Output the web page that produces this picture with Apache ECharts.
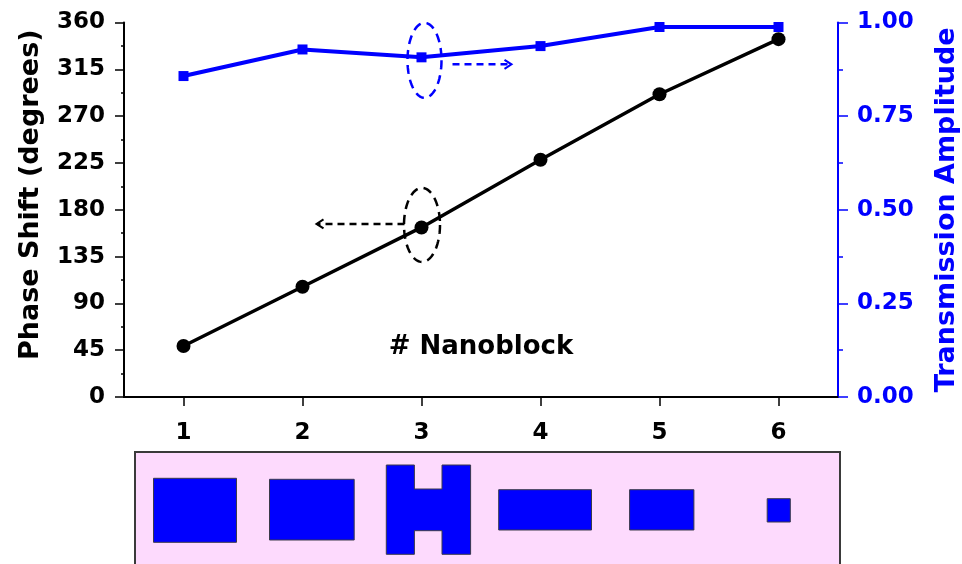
<!DOCTYPE html>
<html>
<head>
<meta charset="utf-8">
<script src="https://cdn.jsdelivr.net/npm/echarts@6.0.0/dist/echarts.min.js"></script>
<style>
  html, body { margin: 0; padding: 0; background: #fff; }
  #chart { width: 962px; height: 564px; }
</style>
</head>
<body>
<div id="chart"></div>
<script>
// Nanoblock index along the x axis
const nanoblocks = ['1', '2', '3', '4', '5', '6'];
// Phase shift of each nanoblock (degrees)
const phaseShift = [49, 106, 163, 228, 291, 344];
// Transmission amplitude of each nanoblock
const transmission = [0.857, 0.928, 0.907, 0.937, 0.988, 0.988];

const FONT = 'DejaVu Sans';
const BLUE = '#0000ff';

const chart = echarts.init(document.getElementById('chart'), null, { renderer: 'canvas' });

const labelStyle = (color) => ({
  fontFamily: FONT, fontWeight: 'bold', fontSize: 23, color: color
});

chart.setOption({
  animation: false,
  backgroundColor: '#ffffff',
  grid: { left: 124, right: 124, top: 22.5, bottom: 167, containLabel: false, outerBoundsMode: 'none' },
  xAxis: [
    {
      type: 'category', data: nanoblocks, position: 'bottom', boundaryGap: true,
      axisLine: { show: true, lineStyle: { color: '#000', width: 2 } },
      axisTick: { show: true, alignWithLabel: true, length: 9, lineStyle: { color: '#000', width: 1.5 } },
      axisLabel: Object.assign({ margin: 25 }, labelStyle('#000')),
      splitLine: { show: false }
    },
    {
      type: 'category', data: nanoblocks, position: 'top', boundaryGap: true,
      axisLine: { show: true, lineStyle: { color: '#000', width: 2 } },
      axisTick: { show: true, inside: true, alignWithLabel: true, length: 7, lineStyle: { color: '#000', width: 1.5 } },
      axisLabel: { show: false },
      splitLine: { show: false }
    }
  ],
  yAxis: [
    {
      type: 'value', min: 0, max: 360, interval: 45, position: 'left',
      name: 'Phase Shift (degrees)', nameLocation: 'middle', nameRotate: 90, nameGap: 80,
      nameTextStyle: { fontFamily: FONT, fontWeight: 'bold', fontSize: 27, color: '#000',
                       padding: [0, 0, 0, 30] },
      axisLine: { show: true, lineStyle: { color: '#000', width: 2 } },
      axisTick: { show: true, length: 9, lineStyle: { color: '#000', width: 1.5 } },
      minorTick: { show: true, splitNumber: 2, length: 3, lineStyle: { color: '#000', width: 1.5 } },
      axisLabel: Object.assign({ margin: 19 }, labelStyle('#000')),
      splitLine: { show: false }
    },
    {
      type: 'value', min: 0, max: 1, interval: 0.25, position: 'right',
      name: 'Transmission Amplitude', nameLocation: 'middle', nameRotate: 90, nameGap: 95,
      nameTextStyle: { fontFamily: FONT, fontWeight: 'bold', fontSize: 27, color: BLUE },
      axisLine: { show: true, lineStyle: { color: BLUE, width: 2 } },
      axisTick: { show: true, length: 10, lineStyle: { color: BLUE, width: 1.5 } },
      minorTick: { show: true, splitNumber: 2, length: 5, lineStyle: { color: BLUE, width: 1.5 } },
      axisLabel: Object.assign({ margin: 19, formatter: (v) => v.toFixed(2) }, labelStyle(BLUE)),
      splitLine: { show: false }
    }
  ],
  series: [
    {
      name: 'Phase Shift', type: 'line', xAxisIndex: 0, yAxisIndex: 0, data: phaseShift,
      symbol: 'circle', symbolSize: 14,
      lineStyle: { color: '#000', width: 3.5 },
      itemStyle: { color: '#000' },
      z: 3
    },
    {
      name: 'Transmission Amplitude', type: 'line', xAxisIndex: 0, yAxisIndex: 1, data: transmission,
      symbol: 'rect', symbolSize: 10,
      lineStyle: { color: BLUE, width: 4 },
      itemStyle: { color: BLUE },
      z: 4
    }
  ]
});

// Dashed ellipse outline as a closed polygon
function ellipse(cx, cy, rx, ry, color) {
  const pts = [];
  for (let i = 0; i < 96; i++) {
    const a = (i / 96) * Math.PI * 2;
    pts.push([cx + rx * Math.cos(a), cy + ry * Math.sin(a)]);
  }
  return {
    type: 'polygon', shape: { points: pts }, z: 10,
    style: { fill: null, stroke: color, lineWidth: 2.5, lineDash: [9, 6] }
  };
}

// Dashed arrow with an open chevron head at (x2, y)
function arrow(x1, x2, y, color) {
  const dir = x2 > x1 ? 1 : -1;
  return [
    { type: 'line', z: 10, shape: { x1: x1, y1: y, x2: x2 - dir * 1, y2: y },
      style: { stroke: color, lineWidth: 2.5, lineDash: [7, 5] } },
    { type: 'polyline', z: 10,
      shape: { points: [[x2 - dir * 7, y - 4.5], [x2, y], [x2 - dir * 7, y + 4.5]] },
      style: { stroke: color, lineWidth: 2, fill: null } }
  ];
}

// Markers for the third nanoblock, which the callouts circle
const pBlue = chart.convertToPixel({ seriesIndex: 1 }, [2, transmission[2]]);
const pBlack = chart.convertToPixel({ seriesIndex: 0 }, [2, phaseShift[2]]);

const blockStyle = { fill: BLUE, stroke: '#3a3a4a', lineWidth: 1 };

const elements = [
  ellipse(pBlue[0] + 3, pBlue[1] + 3, 17, 37.5, BLUE),
  ellipse(pBlack[0] + 0.5, pBlack[1] - 2.5, 18, 37, '#000'),
  ...arrow(pBlue[0] + 31, pBlue[0] + 90, pBlue[1] + 7, BLUE),
  ...arrow(pBlack[0] - 17, pBlack[0] - 105, pBlack[1] - 3.5, '#000'),
  {
    type: 'text', z: 10, x: 481, y: 347,
    style: { text: '# Nanoblock', fontFamily: FONT, fontWeight: 'bold', fontSize: 26,
             fill: '#000', align: 'center', verticalAlign: 'middle' }
  },
  // Panel showing the nanoblock cross-sections
  {
    type: 'rect', z: 1, shape: { x: 135, y: 452, width: 705, height: 120 },
    style: { fill: '#fddafd', stroke: '#3a3a3a', lineWidth: 2 }
  },
  { type: 'rect', z: 2, shape: { x: 153.5, y: 478.3, width: 83, height: 64 }, style: blockStyle },
  { type: 'rect', z: 2, shape: { x: 269.5, y: 479.3, width: 84.7, height: 60.7 }, style: blockStyle },
  {
    type: 'polygon', z: 2,
    shape: { points: [[386.3, 465], [414.4, 465], [414.4, 489], [442, 489], [442, 465], [470.6, 465],
                      [470.6, 554.3], [442, 554.3], [442, 530.7], [414.4, 530.7], [414.4, 554.3], [386.3, 554.3]] },
    style: blockStyle
  },
  { type: 'rect', z: 2, shape: { x: 498.7, y: 489.7, width: 92.8, height: 40.3 }, style: blockStyle },
  { type: 'rect', z: 2, shape: { x: 629.6, y: 489.7, width: 64.3, height: 40.3 }, style: blockStyle },
  { type: 'rect', z: 2, shape: { x: 767.2, y: 498.7, width: 23.1, height: 23.3 }, style: blockStyle }
];

chart.setOption({ graphic: { elements: elements } });
</script>
</body>
</html>
